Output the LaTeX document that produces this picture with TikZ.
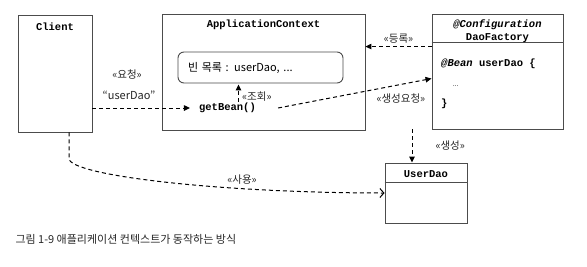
\documentclass[tikz,border=0pt]{standalone}
\usepackage{fontspec}
\setmainfont{Noto Sans CJK KR}
\newfontfamily\codefont{Liberation Mono}
\usetikzlibrary{arrows.meta,positioning}

\begin{document}
\begin{tikzpicture}[x=1pt, y=-1pt,
  box/.style={draw=black!70, line width=0.9pt, fill=white, inner sep=0pt},
  title/.style={font=\codefont\bfseries\fontsize{10.5}{13}\selectfont, inner sep=1pt},
  lbl/.style={font=\fontsize{10.5}{12}\selectfont, text=black!85, inner sep=1pt},
  dep/.style={line width=1pt, dash pattern=on 4pt off 3pt, -{Triangle[length=6pt,width=5.5pt]}},
  use/.style={line width=1pt, dash pattern=on 4pt off 3pt, -{Straight Barb[length=4pt,width=9pt]}}]
  \useasboundingbox (0,0) rectangle (587,266);
  \node[box, minimum width=74pt, minimum height=117pt] (client) at (55,73.5) {};
  \node[title] (clientT) at (55,27) {Client};
  \node[box, minimum width=203pt, minimum height=116pt] (ctx) at (263.5,72) {};
  \node[title] (ctxT) at (263.5,25) {ApplicationContext};
  \node[box, rounded corners=6pt, minimum width=165pt, minimum height=31pt, text width=145pt,
    inner xsep=10pt, align=left, font=\fontsize{11}{13}\selectfont] (beans) at (260.5,67.5) {빈 목록 : userDao, ...};
  \node[title] (getbean) at (227.5,108) {getBean()};
  \node[box, minimum width=131pt, minimum height=115pt] (dao) at (497.5,71.5) {};
  \draw[box] ([yshift=-29pt]dao.north west) -- ([yshift=-29pt]dao.north east);
  \node[title, align=center] (daoT) at (497.5,31.5) {{\itshape @Configuration}\\DaoFactory};
  \node[title, anchor=north west, align=left, font=\codefont\bfseries\fontsize{10.5}{20}\selectfont] (daoB) at (440,58)
    {{\itshape @Bean} userDao \{\\\hspace{1.1em}{\normalfont\mdseries\fontsize{7}{8}\selectfont ...}\\\}};
  \node[box, minimum width=82pt, minimum height=60pt] (userdao) at (426,193) {};
  \draw[box] ([yshift=-20pt]userdao.north west) -- ([yshift=-20pt]userdao.north east);
  \node[title] (userdaoT) at (426,174) {UserDao};

  \draw[dep] (client.east |- getbean) -- ([xshift=-8pt]getbean.west);
  \node[lbl] (reqL) at (127,75) {«요청»};
  \node[lbl, font=\fontsize{11}{13}\selectfont] (reqN) at (129,95) {“userDao”};
  \draw[dep] ([xshift=11pt]getbean.north) -- ([xshift=11pt,yshift=-1pt]getbean.north |- beans.south);
  \node[lbl, anchor=west] (lookL) at (241,97) {«조회»};
  \coordinate (reg) at ([yshift=-33pt]dao.north west);
  \draw[dep] (reg) -- (reg -| ctx.east) node[lbl, midway, above=2pt] {«등록»};
  \coordinate (mk) at ([yshift=-65pt]dao.north west);
  \draw[dep] ([xshift=21pt]getbean.east) -- (mk) node[lbl, pos=0.8, below=8pt] {«생성요청»};
  \coordinate (mkU) at ([xshift=-14pt]userdao.north);
  \draw[dep] (mkU |- dao.south) -- (mkU) node[lbl, midway, right=22pt] {«생성»};
  \draw[use] ([xshift=14pt]client.south) -- ++(0,26) .. controls +(0,17) and (220,193) .. (userdao.west);
  \node[lbl] (useL) at (242,180) {«사용»};

  \node[anchor=west, font=\fontsize{11}{13}\selectfont, text=black!85] (caption) at (12,239)
    {그림 1-9 애플리케이션 컨텍스트가 동작하는 방식};
\end{tikzpicture}
\end{document}
